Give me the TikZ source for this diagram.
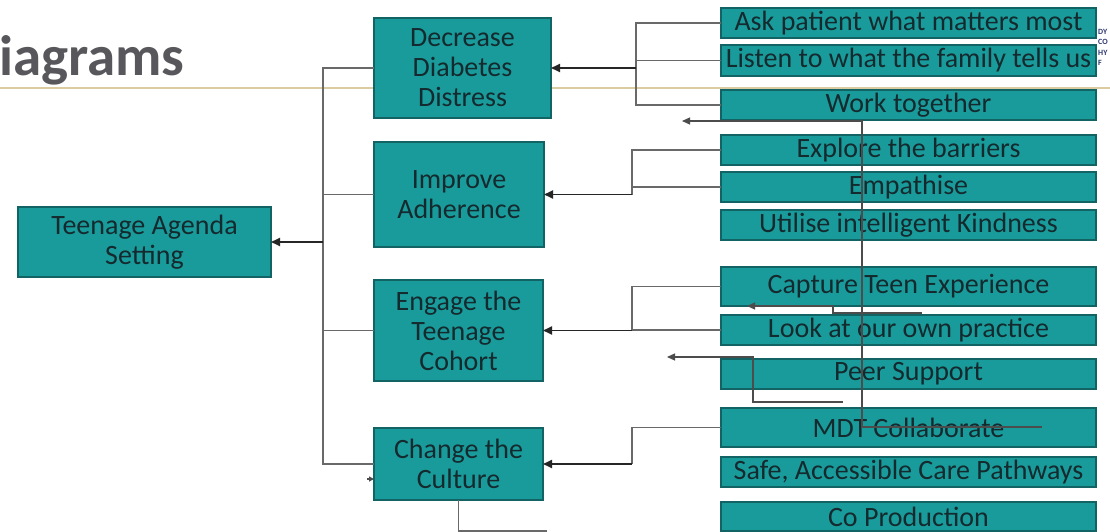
\documentclass[tikz,border=0pt]{standalone}
\usepackage{fontspec}
\setmainfont{Carlito}
\usetikzlibrary{arrows.meta}
\definecolor{tealfill}{RGB}{26,155,155}
\definecolor{tealedge}{RGB}{18,100,100}
\definecolor{boxtext}{RGB}{20,42,46}
\definecolor{wirecol}{RGB}{105,105,105}
\definecolor{rulecol}{RGB}{218,204,160}
\definecolor{titlegray}{RGB}{88,88,92}
\definecolor{logoblue}{RGB}{45,55,115}
\begin{document}
\begin{tikzpicture}[x=1pt,y=-1pt,
  cbox/.style={draw=tealedge, fill=tealfill, text=boxtext, line width=1.2pt,
    anchor=north west, inner sep=0pt, outer sep=0pt, align=center,
    font=\fontsize{28}{30}\selectfont},
  rbox/.style={cbox, minimum width=375pt, minimum height=30pt},
  wire/.style={draw=wirecol, line width=1.4pt},
  feed/.style={draw=black!85, line width=1.9pt, -{Triangle[length=9pt,width=8pt]}},
  stray/.style={draw=black!70, line width=1.2pt},
  straytip/.style={stray, -{Triangle[length=8pt,width=7pt]}},
]
\useasboundingbox (0,0) rectangle (1110,532);
\fill[white] (0,0) rectangle (1110,532);

% page header
\draw[rulecol, line width=1.5pt] (0,88) -- (1110,88);
\node[anchor=base west, inner sep=0pt, text=titlegray,
  font=\bfseries\fontsize{57}{57}\selectfont] (title) at (-1,76) {iagrams};
\node[anchor=north west, inner sep=0pt, align=left, text=logoblue,
  font=\bfseries\fontsize{8}{10.5}\selectfont] (logo) at (1098,29) {DY\\CO\\HY\\F};

% goal and aims
\node[cbox, minimum width=253pt, minimum height=70pt] (tas) at (18,207) {Teenage Agenda\\Setting};
\node[cbox, minimum width=177pt, minimum height=100pt] (dec) at (374,18) {Decrease\\Diabetes\\Distress};
\node[cbox, minimum width=170pt, minimum height=105pt] (imp) at (374,142) {Improve\\Adherence};
\node[cbox, minimum width=169pt, minimum height=101pt] (eng) at (374,280) {Engage the\\Teenage\\Cohort};
\node[cbox, minimum width=169pt, minimum height=72pt] (chg) at (374,428) {Change the\\Culture};

% actions
\node[rbox] (ask) at (721,8) {Ask patient what matters most};
\node[rbox, minimum height=31pt] (listen) at (721,45) {Listen to what the family tells us};
\node[rbox] (work) at (721,90) {Work together};
\node[rbox] (explore) at (721,135) {Explore the barriers};
\node[rbox] (empath) at (721,172) {Empathise};
\node[rbox] (util) at (721,210) {Utilise intelligent Kindness};
\node[rbox, minimum height=39pt] (capture) at (721,267) {Capture Teen Experience};
\node[rbox] (look) at (721,315) {Look at our own practice};
\node[rbox] (peer) at (721,359) {Peer Support};
\node[rbox, minimum height=39pt] (mdt) at (721,408) {MDT Collaborate};
\node[rbox] (safe) at (721,457) {Safe, Accessible Care Pathways};
\node[rbox, minimum height=29pt] (copro) at (721,502) {Co Production};

% bus positions
\coordinate (busL) at (323,0);
\coordinate (busA) at (636,0);
\coordinate (busB) at (632,0);

% aims into the goal
\draw[wire] (dec.west) -- (dec.west -| busL) -- (chg.west -| busL) -- (chg.west);
\draw[wire] (imp.west) -- (imp.west -| busL);
\draw[wire] (eng.west) -- (eng.west -| busL);
\draw[feed] (tas.east -| busL) -- (tas.east);

% actions into the aims
\draw[wire] (ask.west) -- (ask.west -| busA) -- (work.west -| busA) -- (work.west);
\draw[wire] (listen.west) -- (listen.west -| busA);
\draw[feed] (dec.east -| busA) -- (dec.east);

\draw[wire] (explore.west) -- (explore.west -| busB) -- (imp.east -| busB);
\draw[wire] (empath.west) -- (empath.west -| busB);
\draw[feed] (imp.east -| busB) -- (imp.east);

\draw[wire] (capture.west) -- (capture.west -| busB) -- (eng.east -| busB);
\draw[wire] (look.west) -- (look.west -| busB);
\draw[feed] (eng.east -| busB) -- (eng.east);

\draw[wire] (mdt.west) -- (mdt.west -| busB) -- (chg.east -| busB);
\draw[feed] (chg.east -| busB) -- (chg.east);

% loose connectors
\coordinate (sA1) at (1042,427);
\coordinate (sA2) at (862,427);
\coordinate (sA3) at (862,121);
\coordinate (sA4) at (682,121);
\draw[straytip] (sA1) -- (sA2) -- (sA3) -- (sA4);

\coordinate (sB1) at (922,313);
\coordinate (sB2) at (833,313);
\coordinate (sB3) at (833,306);
\coordinate (sB4) at (747,306);
\draw[straytip] (sB1) -- (sB2) -- (sB3) -- (sB4);

\coordinate (sC1) at (843,402);
\coordinate (sC2) at (753,402);
\coordinate (sC3) at (753,357);
\coordinate (sC4) at (667,357);
\draw[straytip] (sC1) -- (sC2) -- (sC3) -- (sC4);

\coordinate (sD1) at (547,531);
\draw[wire] (chg.south) -- (chg.south |- sD1) -- (sD1);

\coordinate (sE1) at (367,479);
\draw[stray, -{Triangle[length=5pt,width=5pt]}] (sE1) -- (chg.west |- sE1);
\end{tikzpicture}
\end{document}
